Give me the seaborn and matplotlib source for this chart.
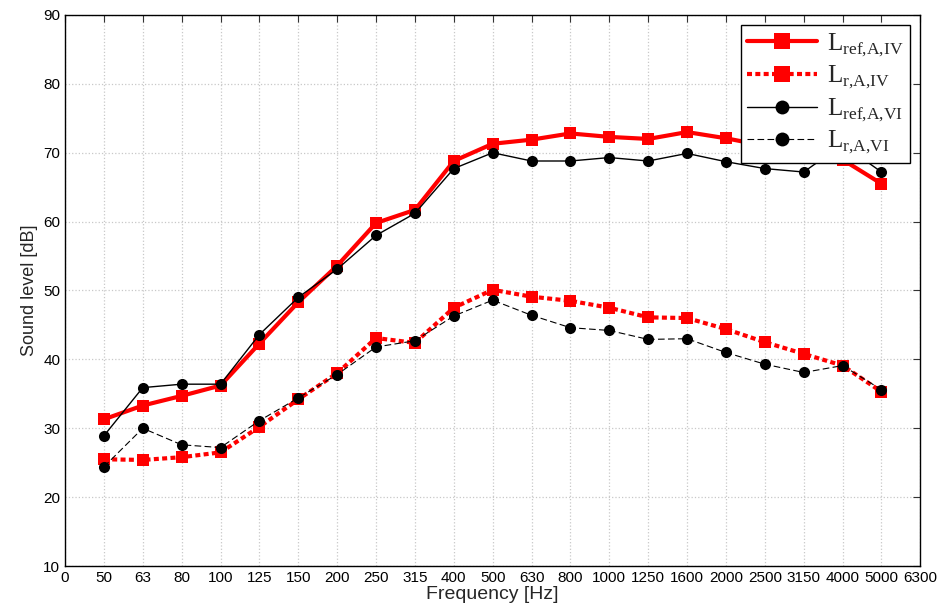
import numpy as np
import pandas as pd
import matplotlib
matplotlib.use("Agg")
import matplotlib.pyplot as plt
import seaborn as sns

# -----------------------------------------------------------------------------
# DATA
# -----------------------------------------------------------------------------
freq_labels = ["0", "50", "63", "80", "100", "125", "150", "200", "250", "315",
               "400", "500", "630", "800", "1000", "1250", "1600", "2000",
               "2500", "3150", "4000", "5000", "6300"]
bands = freq_labels[1:-1]

l_ref_a_iv = [31.3, 33.3, 34.7, 36.2, 42.3, 48.3, 53.6, 59.8, 61.7, 68.8,
              71.3, 71.9, 72.8, 72.3, 72.0, 73.0, 72.1, 71.0, 70.0, 69.0, 65.5]
l_r_a_iv = [25.5, 25.4, 25.8, 26.5, 30.2, 34.2, 38.0, 43.1, 42.4, 47.5,
            50.1, 49.1, 48.5, 47.5, 46.1, 46.0, 44.4, 42.5, 40.8, 39.1, 35.3]
l_ref_a_vi = [28.9, 35.9, 36.4, 36.4, 43.6, 49.0, 53.1, 58.0, 61.2, 67.7,
              70.0, 68.8, 68.8, 69.3, 68.8, 69.9, 68.7, 67.7, 67.2, 71.2, 67.2]
l_r_a_vi = [24.4, 30.0, 27.6, 27.2, 31.1, 34.4, 37.8, 41.8, 42.7, 46.3,
            48.6, 46.4, 44.6, 44.2, 42.9, 43.0, 41.0, 39.3, 38.1, 39.1, 35.6]

series_names = [r"$\mathrm{L}_{\mathrm{ref{,}A{,}IV}}$",
                r"$\mathrm{L}_{\mathrm{r{,}A{,}IV}}$",
                r"$\mathrm{L}_{\mathrm{ref{,}A{,}VI}}$",
                r"$\mathrm{L}_{\mathrm{r{,}A{,}VI}}$"]

# -----------------------------------------------------------------------------
# PLOT
# -----------------------------------------------------------------------------
sns.set_style("white")
plt.rcParams["font.family"] = ["Liberation Sans", "DejaVu Sans"]
plt.rcParams["mathtext.fontset"] = "custom"
plt.rcParams["mathtext.rm"] = "Liberation Serif"

pos = np.arange(1, len(bands) + 1)
df = pd.DataFrame({"pos": pos, "ref_iv": l_ref_a_iv, "r_iv": l_r_a_iv,
                   "ref_vi": l_ref_a_vi, "r_vi": l_r_a_vi})

fig, ax = plt.subplots(figsize=(9.42, 6.11), dpi=100)
fig.subplots_adjust(left=0.069, right=0.977, top=0.9755, bottom=0.0736)

styles = [
    ("ref_iv", dict(color="#ff0000", lw=3.0, linestyle="-", marker="s", markersize=9)),
    ("r_iv", dict(color="#ff0000", lw=3.0, linestyle=(0, (1.2, 0.8)), marker="s", markersize=9)),
    ("ref_vi", dict(color="black", lw=1.0, linestyle="-", marker="o", markersize=8)),
    ("r_vi", dict(color="black", lw=0.8, linestyle=(0, (6, 3)), marker="o", markersize=8)),
]
for (col, st), name in zip(styles, series_names):
    sns.lineplot(data=df, x="pos", y=col, ax=ax, label=name,
                 markeredgewidth=0, **st)

ax.set_xlim(0, len(freq_labels) - 1)
ax.set_ylim(10, 90)
ax.set_xticks(np.arange(len(freq_labels)))
ax.set_xticklabels(freq_labels, fontsize=11)
ax.set_yticks(np.arange(10, 91, 10))
ax.tick_params(axis="y", labelsize=11)
ax.tick_params(direction="in", length=5, top=True, right=True, colors="#333333",
               labelcolor="black")
ax.grid(True, linestyle=":", color="#c8c8c8", lw=0.9)
for s in ax.spines.values():
    s.set_color("black")
    s.set_linewidth(1.0)

ax.set_xlabel("Frequency [Hz]", fontsize=14, labelpad=1)
ax.set_ylabel("Sound level [dB]", fontsize=13, labelpad=4)

leg = ax.legend(loc="upper right", fontsize=18, frameon=True, fancybox=False,
                framealpha=1, edgecolor="black", handlelength=2.8,
                markerscale=1.25, borderpad=0.25, labelspacing=0.2,
                handletextpad=0.4, borderaxespad=0.4)
leg.get_frame().set_linewidth(1.0)

fig.savefig("out.png", dpi=100)
